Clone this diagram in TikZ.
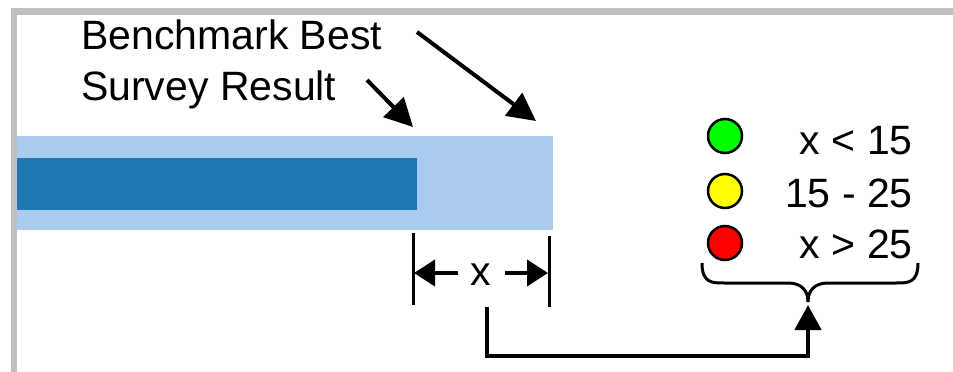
\documentclass[tikz,border=0pt]{standalone}
\usepackage{fontspec}
\setmainfont{Liberation Sans}
\usetikzlibrary{arrows.meta}
\definecolor{lightbar}{HTML}{A8CBEF}
\definecolor{darkbar}{HTML}{2077B4}
\definecolor{frame}{HTML}{C0C0C0}
\definecolor{ggreen}{HTML}{00FF00}
\definecolor{gyellow}{HTML}{FFFF00}
\definecolor{gred}{HTML}{FF0000}
\tikzset{
  lbl/.style={inner sep=0pt, font=\fontsize{41}{49}\selectfont},
  pointer/.style={line width=4pt, -{Triangle[length=28pt,width=28pt]}},
  dimline/.style={line width=3pt},
  dimarrow/.style={line width=4pt, -{Triangle[length=21pt,width=26pt]}},
  lamp/.style={circle, draw=black, line width=2.5pt, minimum size=34pt, inner sep=0pt},
  brace/.style={line width=3pt},
  link/.style={line width=4.5pt, -{Triangle[length=25pt,width=26pt]}},
}
\begin{document}
\begin{tikzpicture}[x=1pt,y=-1pt]
\useasboundingbox (0,0) rectangle (953,372);
% frame
\fill[frame] (11,8) rectangle (953,15);
\fill[frame] (11,8) rectangle (17,372);
% bars
\node[fill=lightbar, inner sep=0pt, minimum width=536pt, minimum height=94pt, anchor=north west] (bench) at (17,136) {};
\node[fill=darkbar, inner sep=0pt, minimum width=400pt, minimum height=52pt, anchor=north west] (survey) at (17,158) {};
% labels
\node[lbl, anchor=base west] (tbest) at (81,49) {Benchmark Best};
\node[lbl, anchor=base west] (tsurv) at (81,100) {Survey Result};
\coordinate (p1s) at (417,32);
\coordinate (p1e) at (536,121);
\coordinate (p2s) at (367,80);
\coordinate (p2e) at (413,127);
\draw[pointer] (p1s) -- (p1e);
\draw[pointer] (p2s) -- (p2e);
% dimension
\coordinate (dl1) at (413,233);
\coordinate (dl2) at (413,305);
\coordinate (dr1) at (549,236);
\coordinate (dr2) at (549,307);
\draw[dimline] (dl1) -- (dl2);
\draw[dimline] (dr1) -- (dr2);
\node[lbl, anchor=base] (xlab) at (481,285) {x};
\coordinate (al) at (458,273);
\coordinate (alt) at (414,273);
\coordinate (ar) at (505,273);
\coordinate (art) at (548,273);
\draw[dimarrow] (al) -- (alt);
\draw[dimarrow] (ar) -- (art);
% legend
\node[lamp, fill=ggreen] (cg) at (725,136) {};
\node[lamp, fill=gyellow] (cy) at (725,191) {};
\node[lamp, fill=gred] (cr) at (725,243) {};
\node[lbl, anchor=base east] (tg) at (913,154) {x < 15};
\node[lbl, anchor=base east] (ty) at (913,207) {15 - 25};
\node[lbl, anchor=base east] (tr) at (913,258) {x > 25};
% brace
\coordinate (btip) at (808,302);
\draw[brace] (702,263) .. controls (702,283) and (712,283) .. (724,283) -- (788,283) .. controls (801,283) and (808,290) .. (btip);
\draw[brace] (918,263) .. controls (918,283) and (908,283) .. (896,283) -- (828,283) .. controls (815,283) and (808,290) .. (btip);
% link
\coordinate (ls) at (487,307);
\coordinate (lend) at (808,305);
\draw[link] (ls) |- (808,356) -- (lend);
\end{tikzpicture}
\end{document}
